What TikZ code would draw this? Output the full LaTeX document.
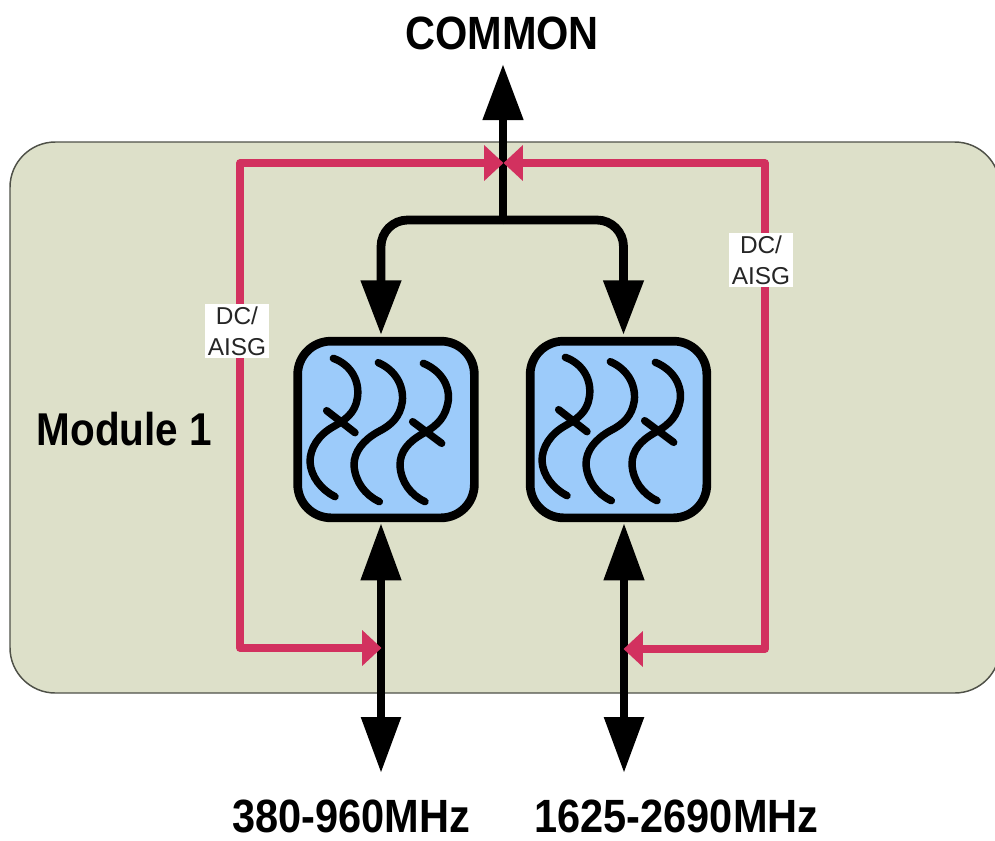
\documentclass[tikz,border=0pt]{standalone}
\usepackage{fontspec}
\setmainfont{Liberation Sans}
\newfontfamily\condfont[FakeStretch=0.89]{Liberation Sans}
\newfontfamily\modfont[FakeStretch=0.88]{Liberation Sans}
\usetikzlibrary{arrows.meta}
\definecolor{modfill}{HTML}{DDE0C9}
\definecolor{modline}{HTML}{4F5148}
\definecolor{filtfill}{HTML}{9CCBFA}
\definecolor{dcpink}{HTML}{D2315F}
\tikzset{
  x=0.75pt,y=-0.75pt,
  modulebox/.style={draw=modline,line width=1.1pt,fill=modfill,rounded corners=34pt},
  filterbox/.style={draw=black,line width=6.5pt,fill=filtfill,rounded corners=25pt,minimum width=132.5pt,minimum height=132.5pt,inner sep=0pt,outer sep=0pt},
  rfline/.style={draw=black,line width=6.6pt},
  rfend/.style={-{Triangle[length=41pt,width=29pt]}},
  rfboth/.style={{Triangle[length=43pt,width=29pt]}-{Triangle[length=42pt,width=28.5pt]}},
  rfup/.style={-{Triangle[length=42pt,width=29pt]}},
  dcline/.style={draw=dcpink,line width=5.6pt,line join=round,-{Triangle[length=14.5pt,width=26pt]}},
  wave/.style={draw=black,line width=5.6pt,line cap=round},
  biglabel/.style={font=\condfont\bfseries\fontsize{35}{36}\selectfont,inner sep=0pt},
  modlabel/.style={font=\modfont\bfseries\fontsize{34.5}{36}\selectfont,inner sep=0pt},
  dclabel/.style={fill=white,font=\fontsize{18.3}{23}\selectfont,align=center,inner sep=2.2pt,text=black!85},
}
\newcommand{\filterwaves}[2]{%
  \begin{scope}[shift={(#1,#2)},x=0.25pt,y=-0.25pt]
    \draw[wave] (160,115) .. controls (215,135) and (240,185) .. (232,235) .. controls (225,280) and (195,300) .. (160,320) .. controls (115,345) and (90,385) .. (90,425) .. controls (92,470) and (125,510) .. (165,530);
    \draw[wave] (295,128) .. controls (345,150) and (372,195) .. (367,245) .. controls (360,290) and (335,315) .. (295,335) .. controls (250,360) and (222,395) .. (222,435) .. controls (225,485) and (255,525) .. (298,545);
    \draw[wave] (430,130) .. controls (480,150) and (510,195) .. (505,240) .. controls (498,290) and (475,315) .. (430,340) .. controls (385,365) and (360,395) .. (360,435) .. controls (362,485) and (392,525) .. (435,545);
    \draw[wave] (140,272) -- (225,338);
    \draw[wave] (398,305) -- (485,370);
  \end{scope}}
\begin{document}
\begin{tikzpicture}
\useasboundingbox (0,0) rectangle (995,840);
\begin{scope}
\clip (0,0) rectangle (995,840);
\path[modulebox] (10,142) rectangle (1000,693);
\end{scope}

\node[filterbox] (f1) at (386,429.5) {};
\node[filterbox] (f2) at (618.5,429.5) {};
\filterwaves{280}{320}
\filterwaves{512}{319}

\node[biglabel] (common) at (502,33) {COMMON};
\node[biglabel] (low) at (351,816) {380-960MHz};
\node[biglabel] (high) at (676.5,816) {1625-2690MHz};
\node[modlabel] (mod) at (124.5,429) {Module 1};

\coordinate (ctop) at (503,64);
\coordinate (junction) at (503,220);
\coordinate (ftl) at (381,335);
\coordinate (ftr) at (623.5,335);
\coordinate (lowup) at (381,523);
\coordinate (lowdown) at (381,773);
\coordinate (highup) at (624,523);
\coordinate (highdown) at (624,773);
\coordinate (pinktop) at (503.5,163);
\coordinate (pinkl) at (381.5,648);
\coordinate (pinkr) at (623.5,649);
\coordinate (cl) at (240,163);
\coordinate (cr) at (765,163);
\coordinate (bl) at (240,648);
\coordinate (br) at (765,649);

\draw[rfline,rfup] (junction) -- (ctop);
\draw[rfline,rfend,rounded corners=20pt] (junction) -| (ftl);
\draw[rfline,rfend,rounded corners=20pt] (junction) -| (ftr);
\draw[rfline,rfboth] (lowup) -- (lowdown);
\draw[rfline,rfboth] (highup) -- (highdown);

\draw[dcline] (bl) -- (cl) -- (pinktop);
\draw[dcline] (br) -- (cr) -- (pinktop);
\draw[dcline] (cl) -- (bl) -- (pinkl);
\draw[dcline] (cr) -- (br) -- (pinkr);

\node[dclabel] (dc1) at (237,331) {DC/\\AISG};
\node[dclabel] (dc2) at (761,260) {DC/\\AISG};
\end{tikzpicture}
\end{document}
